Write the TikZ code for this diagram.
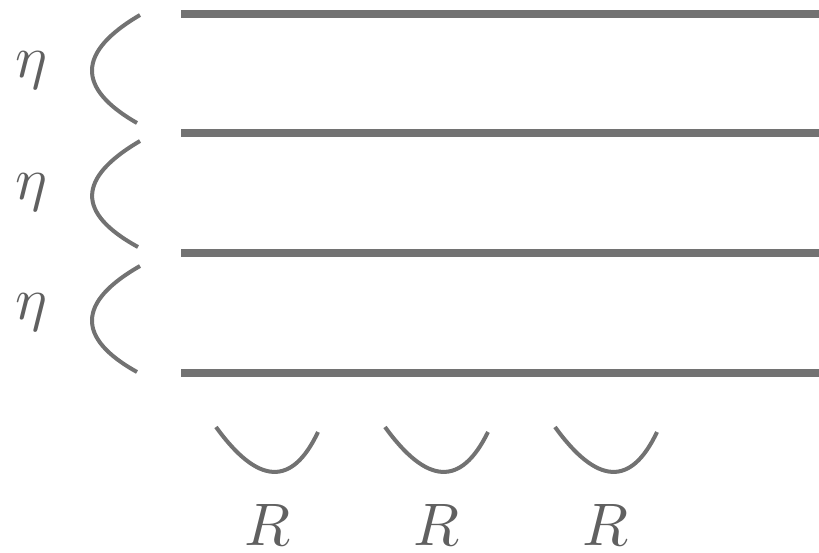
\documentclass[tikz,border=0pt]{standalone}
\usepackage{tikz}
\usetikzlibrary{
    positioning,
    calc
}
\definecolor{Cline}{RGB}{114, 114, 114}
\definecolor{Ctext}{RGB}{96, 96, 96}
\tikzset{
    plate/.style={line width=8pt, draw=Cline},
    bow/.style={line width=4pt, draw=Cline},
    sym/.style={
        inner sep=0pt, text=Ctext, font=\normalsize, scale=6
    },
}

\begin{document}
\begin{tikzpicture}[x=1pt, y=-1pt]

    \useasboundingbox (0,0) rectangle (819,552);

    % horizontal plates
    \draw [plate] (181,14)  -- (819,14);
    \draw [plate] (181,133) -- (819,133);
    \draw [plate] (181,253) -- (819,253);
    \draw [plate] (181,373) -- (819,373);

    % left arcs
    \draw [bow] (140,15)  .. controls (77,52)  and (76,88)  .. (137,123);
    \draw [bow] (140,141) .. controls (77,178) and (76,213) .. (138,247);
    \draw [bow] (140,266) .. controls (77,302) and (76,338) .. (137,372);

    \node [sym] (eta1) at (31,70)  {$\eta$};
    \node [sym] (eta2) at (31,192) {$\eta$};
    \node [sym] (eta3) at (31,312) {$\eta$};

    % bottom arcs
    \draw [bow] (216,427) .. controls (258,485) and (292,487) .. (318,432);
    \draw [bow] (385,427) .. controls (427,485) and (461,487) .. (488,432);
    \draw [bow] (555,427) .. controls (597,485) and (631,487) .. (657,432);

    \node [sym] (r1) at (268,525) {$R$};
    \node [sym] (r2) at (437,525) {$R$};
    \node [sym] (r3) at (606,525) {$R$};

\end{tikzpicture}
\end{document}
